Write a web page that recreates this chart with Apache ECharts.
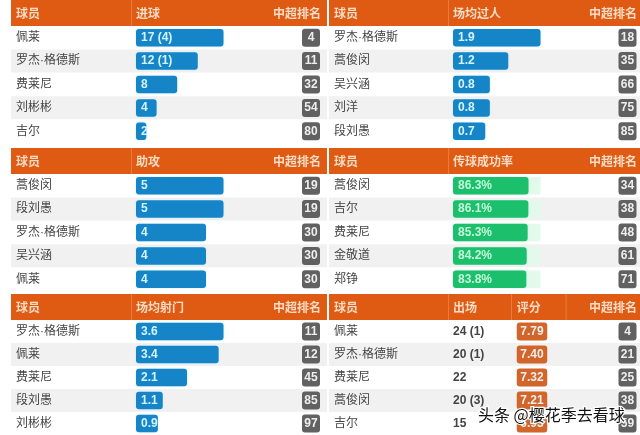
<!DOCTYPE html>
<html>
<head>
<meta charset="utf-8">
<title>球员数据</title>
<style>
html,body{margin:0;padding:0;background:#fff;}
#chart{width:640px;height:435px;}
</style>
<script src="https://cdn.jsdelivr.net/npm/echarts@6/dist/echarts.min.js"></script>
</head>
<body>
<div id="chart"></div>
<script>
// 进球
var goalPlayers = ['佩莱', '罗杰·格德斯', '费莱尼', '刘彬彬', '吉尔'];
var goalValues = [17, 12, 8, 4, 2];
var goalLabels = ['17 (4)', '12 (1)', '8', '4', '2'];
var goalRanks = [4, 11, 32, 54, 80];
// 场均过人
var dribblePlayers = ['罗杰·格德斯', '蒿俊闵', '吴兴涵', '刘洋', '段刘愚'];
var dribbleValues = [1.9, 1.2, 0.8, 0.8, 0.7];
var dribbleRanks = [18, 35, 66, 75, 85];
// 助攻
var assistPlayers = ['蒿俊闵', '段刘愚', '罗杰·格德斯', '吴兴涵', '佩莱'];
var assistValues = [5, 5, 4, 4, 4];
var assistRanks = [19, 19, 30, 30, 30];
// 传球成功率
var passPlayers = ['蒿俊闵', '吉尔', '费莱尼', '金敬道', '郑铮'];
var passValues = [86.3, 86.1, 85.3, 84.2, 83.8];
var passRanks = [34, 38, 48, 61, 71];
// 场均射门
var shotPlayers = ['罗杰·格德斯', '佩莱', '费莱尼', '段刘愚', '刘彬彬'];
var shotValues = [3.6, 3.4, 2.1, 1.1, 0.9];
var shotRanks = [11, 12, 45, 85, 97];
// 出场 评分
var ratePlayers = ['佩莱', '罗杰·格德斯', '费莱尼', '蒿俊闵', '吉尔'];
var rateApps = ['24 (1)', '20 (1)', '22', '20 (3)', '15'];
var rateScores = ['7.79', '7.40', '7.32', '7.21', '6.93'];
var rateRanks = [4, 21, 25, 38, 59];

var fontName = '"Noto Sans CJK SC", sans-serif';
var numFont = '"Liberation Sans", Arial, sans-serif';
// 名字里的间隔号要窄的，先走拉丁字体
var nameFont = '"Liberation Sans", "Noto Sans CJK SC", sans-serif';
var headColor = '#df5a12';
var headText = '#f8dcc6';
var blue = '#1585c8';
var green = '#1bbf6c';

var LEFT = { x: 11, w: 316, barX: 136, sep: [131], titleX: 136, nameX: 16, rankX: 311, headRight: 321 };
var RIGHT = { x: 329, w: 311, barX: 453, sep: [448], titleX: 453, nameX: 334, rankX: 627.5, headRight: 637 };
var TOP1 = 0, TOP2 = 148, TOP3 = 294;
var HEAD_H = 26, BODY_H = 117, BAR_W = 87.5;

var grids = [], xAxes = [], yAxes = [], seriesList = [], graphics = [];

function hiddenX(gridIndex, max) {
	xAxes.push({ type: 'value', gridIndex: gridIndex, min: 0, max: max, show: false });
	return xAxes.length - 1;
}

function badge(bg, w) {
	return {
		fontFamily: numFont, fontWeight: 'bold', fontSize: 12, color: '#eee', align: 'center',
		backgroundColor: bg, width: w, height: 18, lineHeight: 18, borderRadius: 3
	};
}

function header(side, top, titles) {
	graphics.push({ type: 'rect', silent: true, z: 5, shape: { x: side.x, y: top, width: side.w, height: HEAD_H }, style: { fill: headColor } });
	side.sep.forEach(function (x) {
		graphics.push({ type: 'rect', silent: true, z: 6, shape: { x: x, y: top, width: 0.7, height: HEAD_H }, style: { fill: '#ee8a50' } });
	});
	titles.concat([{ text: '球员', x: side.nameX }, { text: '中超排名', x: side.headRight, align: 'right' }]).forEach(function (t) {
		graphics.push({
			type: 'text', silent: true, z: 7, x: t.x, y: top + 13,
			style: { text: t.text, fill: headText, fontFamily: fontName, fontSize: 12, fontWeight: 'bold', align: t.align || 'left', verticalAlign: 'middle' }
		});
	});
}

// 底部条纹 + 球员名 + 排名，都挂在整块面板的 grid 上
function panelBase(side, top, players, ranks) {
	grids.push({ left: side.x, width: side.w, top: top + HEAD_H, height: BODY_H });
	var g = grids.length - 1;
	hiddenX(g, 1);
	yAxes.push({
		type: 'category', gridIndex: g, inverse: true, position: 'left', data: players,
		axisLine: { show: false }, axisTick: { show: false },
		splitArea: { show: true, interval: 0, areaStyle: { color: ['#ffffff', '#f1f1f1'] } },
		axisLabel: { inside: true, interval: 0, margin: side.nameX - side.x, align: 'left', color: '#444', fontSize: 12, fontFamily: nameFont }
	});
	yAxes.push({
		type: 'category', gridIndex: g, inverse: true, position: 'right', data: ranks,
		axisLine: { show: false }, axisTick: { show: false },
		axisLabel: {
			inside: true, interval: 0, margin: side.x + side.w - side.rankX, align: 'center',
			formatter: '{b|{value}}', rich: { b: badge('#616161', 18) }
		}
	});
	return g;
}

function barPanel(side, top, title, players, values, ranks, opt) {
	opt = opt || {};
	header(side, top, [{ text: title, x: side.titleX }]);
	panelBase(side, top, players, ranks);
	grids.push({ left: side.barX, width: BAR_W, top: top + HEAD_H, height: BODY_H });
	var g = grids.length - 1;
	var xi = hiddenX(g, opt.max || Math.max.apply(null, values));
	yAxes.push({ type: 'category', gridIndex: g, inverse: true, data: players, show: false });
	seriesList.push({
		type: 'bar', xAxisIndex: xi, yAxisIndex: yAxes.length - 1, data: values, barWidth: 17.5, z: 3,
		showBackground: !!opt.track,
		backgroundStyle: { color: opt.track || 'transparent' },
		itemStyle: { color: opt.color || blue, borderRadius: 3, shadowColor: opt.glow || '#bfeaff', shadowBlur: 2 },
		label: {
			show: true, position: 'insideLeft', distance: 5, color: opt.textColor || '#d4f3ff',
			fontFamily: numFont, fontWeight: 'bold', fontSize: 12,
			formatter: function (p) { return opt.labels ? opt.labels[p.dataIndex] : p.value + (opt.suffix || ''); }
		}
	});
}

barPanel(LEFT, TOP1, '进球', goalPlayers, goalValues, goalRanks, { labels: goalLabels });
barPanel(RIGHT, TOP1, '场均过人', dribblePlayers, dribbleValues, dribbleRanks);
barPanel(LEFT, TOP2, '助攻', assistPlayers, assistValues, assistRanks);
barPanel(RIGHT, TOP2, '传球成功率', passPlayers, passValues, passRanks, {
	max: 100, suffix: '%', color: green, track: '#e2f9ec', textColor: '#c4f7da', glow: '#c8f5dc'
});
barPanel(LEFT, TOP3, '场均射门', shotPlayers, shotValues, shotRanks);

// 最后一块没有条形，出场和评分是两列文字
var rateSide = { x: 329, w: 311, barX: 453, sep: [448, 511, 565.7], titleX: 453, nameX: 334, rankX: 627.5, headRight: 637 };
header(rateSide, TOP3, [{ text: '出场', x: 453 }, { text: '评分', x: 516.7 }]);
var rateGrid = panelBase(rateSide, TOP3, ratePlayers, rateRanks);
yAxes.push({
	type: 'category', gridIndex: rateGrid, inverse: true, position: 'left', data: rateApps,
	axisLine: { show: false }, axisTick: { show: false },
	axisLabel: { inside: true, interval: 0, margin: 124, align: 'left', color: '#444', fontFamily: numFont, fontWeight: 'bold', fontSize: 12 }
});
yAxes.push({
	type: 'category', gridIndex: rateGrid, inverse: true, position: 'left', data: rateScores,
	axisLine: { show: false }, axisTick: { show: false },
	axisLabel: {
		inside: true, interval: 0, margin: 203, align: 'center',
		formatter: '{b|{value}}', rich: { b: badge('#d2652a', 30.5) }
	}
});

// 水印
graphics.push({
	type: 'text', silent: true, z: 20, x: 478, y: 415,
	style: { text: '头条 @樱花季去看球', fill: '#111', stroke: '#fff', lineWidth: 2.5, fontFamily: fontName, fontSize: 16, verticalAlign: 'middle' }
});

var myChart = echarts.init(document.getElementById('chart'), null, { renderer: 'canvas' });
myChart.setOption({
	animation: false,
	backgroundColor: '#ffffff',
	grid: grids,
	xAxis: xAxes,
	yAxis: yAxes,
	series: seriesList,
	graphic: graphics
});
</script>
</body>
</html>
